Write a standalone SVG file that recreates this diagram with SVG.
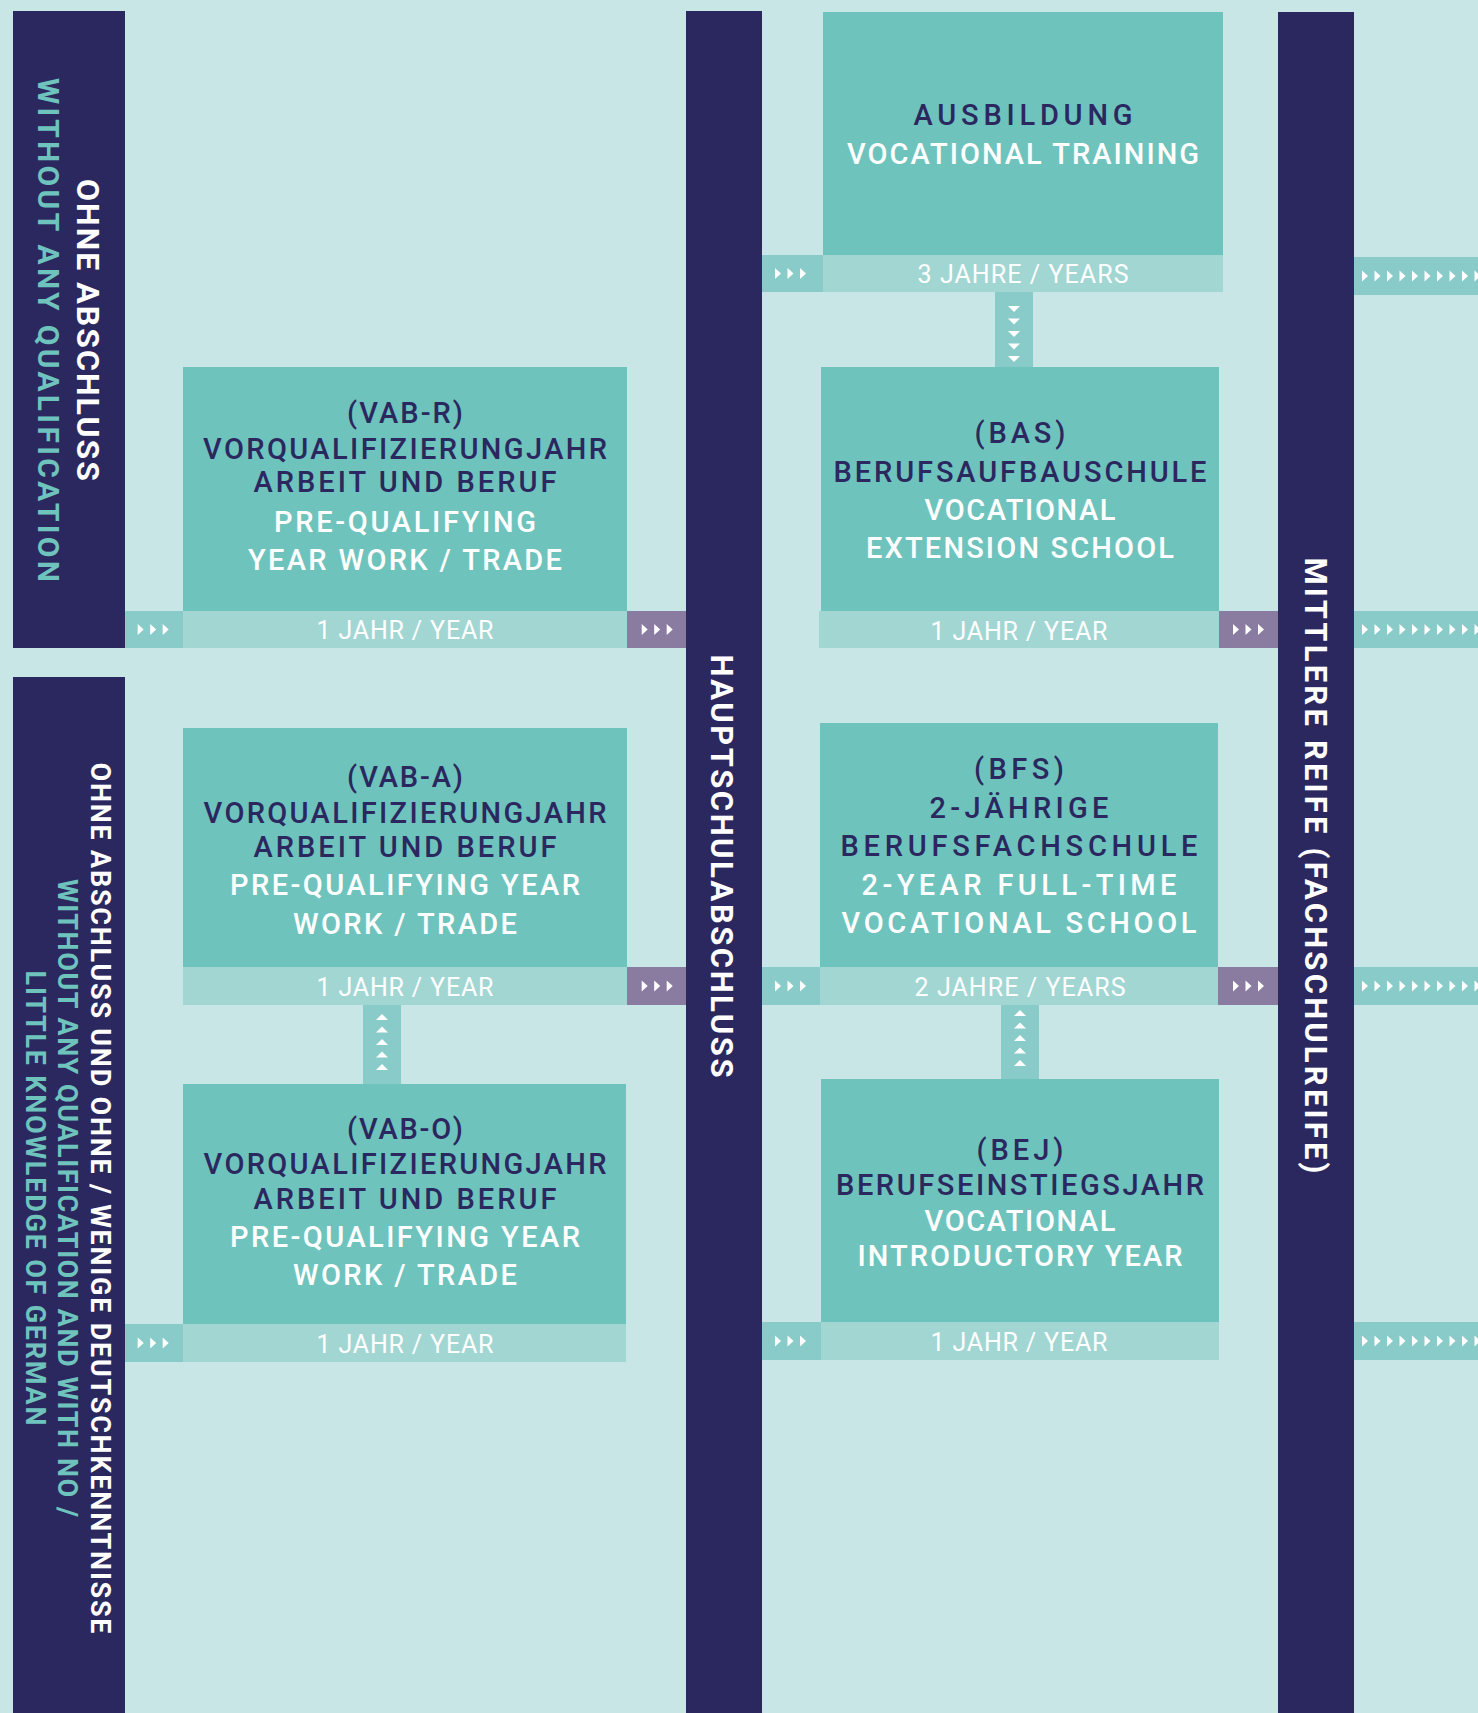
<svg xmlns="http://www.w3.org/2000/svg" width="1478" height="1713" viewBox="0 0 1478 1713">
<style>
.navy{fill:#2b285f}
.box{fill:#6ec3bd}
.strip{fill:#a2d6d3}
.arr{fill:#89cbc8}
.pur{fill:#8a7ba1}
text{font-family:Roboto,"Liberation Sans",sans-serif;text-anchor:middle}
.d{fill:#2b285f;font-weight:500;font-size:29px}
.w{fill:#ffffff;font-weight:500;font-size:29px}
.y{fill:#ffffff;font-weight:400;font-size:25px}
.vw{fill:#ffffff;font-weight:700}
.vt{fill:#6ec3bd;font-weight:700}
</style>
<defs>
<path id="tr" d="M0,-5.5L6,0L0,5.5Z" fill="#ffffff"/>
<path id="td" d="M-6,-3L6,-3L0,3Z" fill="#ffffff"/>
<path id="tu" d="M-6,3L6,3L0,-3Z" fill="#ffffff"/>
</defs>
<rect x="0" y="0" width="1478" height="1713" fill="#c8e6e5"/>

<g id="bar-ohne-abschluss">
<rect class="navy" x="13" y="11" width="112" height="637"/>
<text class="vw" font-size="32" textLength="302" transform="translate(77,330) rotate(90)">OHNE ABSCHLUSS</text>
<text class="vt" font-size="30" textLength="504" transform="translate(38,330) rotate(90)">WITHOUT ANY QUALIFICATION</text>
</g>

<g id="bar-ohne-deutsch">
<rect class="navy" x="13" y="677" width="112" height="1036"/>
<text class="vw" font-size="27" textLength="871" transform="translate(91,1198) rotate(90)">OHNE ABSCHLUSS UND OHNE / WENIGE DEUTSCHKENNTNISSE</text>
<text class="vt" font-size="27" textLength="638" transform="translate(58,1198) rotate(90)">WITHOUT ANY QUALIFICATION AND WITH NO /</text>
<text class="vt" font-size="27" textLength="455" transform="translate(26,1198) rotate(90)">LITTLE KNOWLEDGE OF GERMAN</text>
</g>

<g id="bar-hauptschulabschluss">
<rect class="navy" x="686" y="11" width="76" height="1702"/>
<text class="vw" font-size="31" textLength="423" transform="translate(711,866) rotate(90)">HAUPTSCHULABSCHLUSS</text>
</g>

<g id="bar-mittlere-reife">
<rect class="navy" x="1278" y="12" width="76" height="1701"/>
<text class="vw" font-size="31" textLength="616" transform="translate(1305,865.5) rotate(90)">MITTLERE REIFE (FACHSCHULREIFE)</text>
</g>

<g id="vab-r">
<rect class="box" x="183" y="367" width="444" height="244"/>
<rect class="strip" x="183" y="611" width="444" height="37"/>
<text class="d" x="405" y="423" textLength="116">(VAB-R)</text>
<text class="d" x="405" y="459" textLength="404">VORQUALIFIZIERUNGJAHR</text>
<text class="d" x="405" y="492" textLength="303">ARBEIT UND BERUF</text>
<text class="w" x="405" y="531.5" textLength="262">PRE-QUALIFYING</text>
<text class="w" x="405" y="569.5" textLength="314">YEAR WORK / TRADE</text>
<text class="y" x="405" y="638.5" textLength="177">1 JAHR / YEAR</text>
</g>

<g id="vab-a">
<rect class="box" x="183" y="728" width="444" height="239"/>
<rect class="strip" x="183" y="967" width="444" height="38"/>
<text class="d" x="405" y="787" textLength="116">(VAB-A)</text>
<text class="d" x="405" y="823" textLength="403">VORQUALIFIZIERUNGJAHR</text>
<text class="d" x="405" y="857" textLength="303">ARBEIT UND BERUF</text>
<text class="w" x="405" y="895" textLength="350">PRE-QUALIFYING YEAR</text>
<text class="w" x="405" y="934" textLength="224">WORK / TRADE</text>
<text class="y" x="405" y="995.5" textLength="177">1 JAHR / YEAR</text>
</g>

<g id="vab-o">
<rect class="box" x="183" y="1084" width="443" height="240"/>
<rect class="strip" x="183" y="1324" width="443" height="38"/>
<text class="d" x="405" y="1139" textLength="116">(VAB-O)</text>
<text class="d" x="405" y="1174" textLength="403">VORQUALIFIZIERUNGJAHR</text>
<text class="d" x="405" y="1209" textLength="303">ARBEIT UND BERUF</text>
<text class="w" x="405" y="1247" textLength="350">PRE-QUALIFYING YEAR</text>
<text class="w" x="405" y="1285" textLength="224">WORK / TRADE</text>
<text class="y" x="405" y="1352.5" textLength="177">1 JAHR / YEAR</text>
</g>

<g id="ausbildung">
<rect class="box" x="823" y="12" width="400" height="243"/>
<rect class="strip" x="823" y="255" width="400" height="37"/>
<text class="d" x="1023" y="125" textLength="219">AUSBILDUNG</text>
<text class="w" x="1023" y="164" textLength="352">VOCATIONAL TRAINING</text>
<text class="y" x="1023" y="283" textLength="211">3 JAHRE / YEARS</text>
</g>

<g id="bas">
<rect class="box" x="821" y="367" width="398" height="244"/>
<rect class="strip" x="819" y="611" width="400" height="37"/>
<text class="d" x="1020" y="443" textLength="91">(BAS)</text>
<text class="d" x="1020" y="482" textLength="373">BERUFSAUFBAUSCHULE</text>
<text class="w" x="1020" y="520" textLength="191">VOCATIONAL</text>
<text class="w" x="1020" y="557.5" textLength="308">EXTENSION SCHOOL</text>
<text class="y" x="1019" y="640" textLength="177">1 JAHR / YEAR</text>
</g>

<g id="bfs">
<rect class="box" x="820" y="723" width="398" height="244"/>
<rect class="strip" x="820" y="967" width="398" height="38"/>
<text class="d" x="1019" y="779" textLength="90">(BFS)</text>
<text class="d" x="1019" y="818" textLength="179">2-JÄHRIGE</text>
<text class="d" x="1019" y="856" textLength="357">BERUFSFACHSCHULE</text>
<text class="w" x="1019" y="895" textLength="315">2-YEAR FULL-TIME</text>
<text class="w" x="1019" y="933" textLength="355">VOCATIONAL SCHOOL</text>
<text class="y" x="1020" y="995.5" textLength="211">2 JAHRE / YEARS</text>
</g>

<g id="bej">
<rect class="box" x="821" y="1079" width="398" height="243"/>
<rect class="strip" x="821" y="1322" width="398" height="38"/>
<text class="d" x="1020" y="1160" textLength="87">(BEJ)</text>
<text class="d" x="1020" y="1195" textLength="368">BERUFSEINSTIEGSJAHR</text>
<text class="w" x="1020" y="1231" textLength="191">VOCATIONAL</text>
<text class="w" x="1020" y="1266" textLength="325">INTRODUCTORY YEAR</text>
<text class="y" x="1019" y="1351" textLength="177">1 JAHR / YEAR</text>
</g>

<g id="connectors">
<rect class="arr" x="125" y="611" width="58" height="37"/>
<use href="#tr" x="137.7" y="629.5"/><use href="#tr" x="150.2" y="629.5"/><use href="#tr" x="162.7" y="629.5"/>
<rect class="arr" x="125" y="1324" width="58" height="38"/>
<use href="#tr" x="137.7" y="1343"/><use href="#tr" x="150.2" y="1343"/><use href="#tr" x="162.7" y="1343"/>
<rect class="arr" x="762" y="255" width="61" height="37"/>
<use href="#tr" x="775" y="273.5"/><use href="#tr" x="787.5" y="273.5"/><use href="#tr" x="800" y="273.5"/>
<rect class="arr" x="762" y="967" width="58" height="38"/>
<use href="#tr" x="775" y="986"/><use href="#tr" x="787.5" y="986"/><use href="#tr" x="800" y="986"/>
<rect class="arr" x="762" y="1322" width="59" height="38"/>
<use href="#tr" x="775" y="1341"/><use href="#tr" x="787.5" y="1341"/><use href="#tr" x="800" y="1341"/>

<rect class="pur" x="627" y="611" width="59" height="37"/>
<use href="#tr" x="641.7" y="629.5"/><use href="#tr" x="654.2" y="629.5"/><use href="#tr" x="666.7" y="629.5"/>
<rect class="pur" x="627" y="967" width="59" height="38"/>
<use href="#tr" x="641.7" y="986"/><use href="#tr" x="654.2" y="986"/><use href="#tr" x="666.7" y="986"/>
<rect class="pur" x="1219" y="611" width="59" height="37"/>
<use href="#tr" x="1233" y="629.5"/><use href="#tr" x="1245.5" y="629.5"/><use href="#tr" x="1258" y="629.5"/>
<rect class="pur" x="1218" y="967" width="60" height="38"/>
<use href="#tr" x="1233" y="986"/><use href="#tr" x="1245.5" y="986"/><use href="#tr" x="1258" y="986"/>

<rect class="arr" x="1354" y="257" width="124" height="38"/>
<g transform="translate(0,276)">
<use href="#tr" x="1362"/><use href="#tr" x="1374.5"/><use href="#tr" x="1387"/><use href="#tr" x="1399.5"/><use href="#tr" x="1412"/><use href="#tr" x="1424.5"/><use href="#tr" x="1437"/><use href="#tr" x="1449.5"/><use href="#tr" x="1462"/><use href="#tr" x="1474.5"/>
</g>
<rect class="arr" x="1354" y="611" width="124" height="37"/>
<g transform="translate(0,629.5)">
<use href="#tr" x="1362"/><use href="#tr" x="1374.5"/><use href="#tr" x="1387"/><use href="#tr" x="1399.5"/><use href="#tr" x="1412"/><use href="#tr" x="1424.5"/><use href="#tr" x="1437"/><use href="#tr" x="1449.5"/><use href="#tr" x="1462"/><use href="#tr" x="1474.5"/>
</g>
<rect class="arr" x="1354" y="967" width="124" height="38"/>
<g transform="translate(0,986)">
<use href="#tr" x="1362"/><use href="#tr" x="1374.5"/><use href="#tr" x="1387"/><use href="#tr" x="1399.5"/><use href="#tr" x="1412"/><use href="#tr" x="1424.5"/><use href="#tr" x="1437"/><use href="#tr" x="1449.5"/><use href="#tr" x="1462"/><use href="#tr" x="1474.5"/>
</g>
<rect class="arr" x="1354" y="1322" width="124" height="38"/>
<g transform="translate(0,1341)">
<use href="#tr" x="1362"/><use href="#tr" x="1374.5"/><use href="#tr" x="1387"/><use href="#tr" x="1399.5"/><use href="#tr" x="1412"/><use href="#tr" x="1424.5"/><use href="#tr" x="1437"/><use href="#tr" x="1449.5"/><use href="#tr" x="1462"/><use href="#tr" x="1474.5"/>
</g>

<rect class="arr" x="995" y="292" width="38" height="75"/>
<use href="#td" x="1014" y="309"/><use href="#td" x="1014" y="321.5"/><use href="#td" x="1014" y="334"/><use href="#td" x="1014" y="346.5"/><use href="#td" x="1014" y="359"/>
<rect class="arr" x="363" y="1005" width="38" height="79"/>
<use href="#tu" x="382" y="1017"/><use href="#tu" x="382" y="1029.5"/><use href="#tu" x="382" y="1042"/><use href="#tu" x="382" y="1054.5"/><use href="#tu" x="382" y="1067"/>
<rect class="arr" x="1001" y="1005" width="38" height="74"/>
<use href="#tu" x="1020" y="1013"/><use href="#tu" x="1020" y="1025.5"/><use href="#tu" x="1020" y="1038"/><use href="#tu" x="1020" y="1050.5"/><use href="#tu" x="1020" y="1063"/>
</g>
</svg>
